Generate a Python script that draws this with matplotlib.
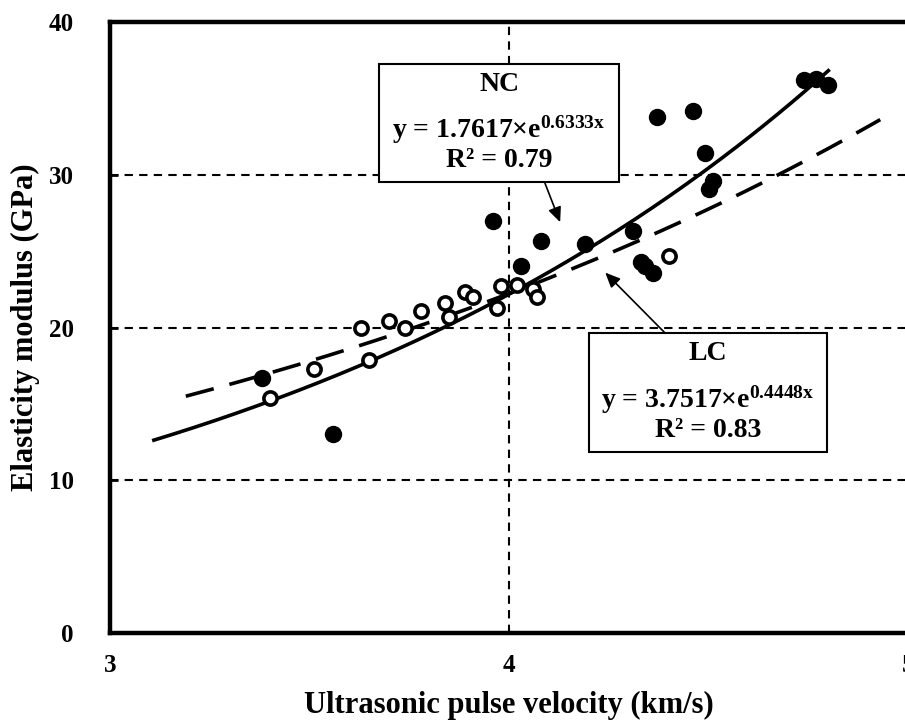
import numpy as np
import matplotlib
matplotlib.use("Agg")
import matplotlib.pyplot as plt
from matplotlib.patches import Rectangle

plt.rcParams["font.family"] = ["Liberation Serif", "DejaVu Serif"]
plt.rcParams["font.weight"] = "bold"
plt.rcParams["mathtext.fontset"] = "custom"
plt.rcParams["mathtext.rm"] = "Liberation Serif:bold"
plt.rcParams["mathtext.it"] = "Liberation Serif:bold"
plt.rcParams["mathtext.bf"] = "Liberation Serif:bold"
plt.rcParams["mathtext.default"] = "rm"

# ---- data ------------------------------------------------------------------
# NC: normal concrete (filled markers)
vel_nc = [3.38, 3.56, 3.96, 4.03, 4.08, 4.19, 4.31, 4.33, 4.34, 4.36,
          4.37, 4.46, 4.49, 4.50, 4.51, 4.74, 4.77, 4.80]
mod_nc = [16.7, 13.0, 27.0, 24.0, 25.7, 25.5, 26.3, 24.3, 24.0, 23.6,
          33.8, 34.2, 31.4, 29.1, 29.6, 36.2, 36.3, 35.9]

# LC: lightweight concrete (open markers)
vel_lc = [3.40, 3.51, 3.63, 3.65, 3.70, 3.74, 3.78, 3.84, 3.85, 3.89,
          3.91, 3.98, 3.97, 4.02, 4.06, 4.07, 4.40]
mod_lc = [15.4, 17.3, 20.0, 17.9, 20.4, 20.0, 21.1, 21.6, 20.7, 22.3,
          22.0, 22.7, 21.3, 22.8, 22.5, 22.0, 24.7]

# exponential trendlines y = a * exp(b x)
nc_a, nc_b, nc_r2 = 1.7617, 0.6333, 0.79
lc_a, lc_b, lc_r2 = 3.7517, 0.4448, 0.83
nc_range = (3.11, 4.80)
lc_range = (3.19, 4.93)

x_ticks = [3, 4, 5]
y_ticks = [0, 10, 20, 30, 40]

# ---- figure ----------------------------------------------------------------
fig = plt.figure(figsize=(9.05, 7.22), dpi=100)
ax = fig.add_axes([0.1215, 0.1233, 0.882, 0.846])

ax.set_xlim(3, 5)
ax.set_ylim(0, 40)

# dashed grid at x=4 and y=10,20,30
for yv in y_ticks[1:-1]:
    ax.axhline(yv, color="black", lw=1.5, dashes=(4, 3), zorder=1)
ax.axvline(4, color="black", lw=1.5, dashes=(4, 3), zorder=1)

xs = np.linspace(*nc_range, 200)
ax.plot(xs, nc_a * np.exp(nc_b * xs), color="black", lw=2.6, zorder=2)
xs = np.linspace(*lc_range, 200)
ax.plot(xs, lc_a * np.exp(lc_b * xs), color="black", lw=2.6, zorder=2,
        dashes=(8, 4.5))

ax.plot(vel_lc, mod_lc, "o", ms=9.5, mfc="white", mec="black", mew=2.6,
        zorder=3, clip_on=False)
ax.plot(vel_nc, mod_nc, "o", ms=11.5, mfc="black", mec="black", mew=1,
        zorder=4, clip_on=False)

for s in ["left", "bottom", "top"]:
    ax.spines[s].set_linewidth(3.2)
ax.spines["right"].set_visible(False)

ax.set_xticks(x_ticks)
ax.set_yticks(y_ticks)
ax.tick_params(axis="x", length=0, pad=15, labelsize=18)
ax.tick_params(axis="y", direction="in", length=6, width=2, pad=26,
               labelsize=18)

ax.set_xlabel("Ultrasonic pulse velocity (km/s)", fontsize=22,
              fontweight="bold", labelpad=10)
ax.set_ylabel("Elasticity modulus (GPa)", fontsize=22, fontweight="bold",
              labelpad=6)


def _label_box(x0, x1, y0, y1, title, a, b, r2):
    ax.add_patch(Rectangle((x0, y0), x1 - x0, y1 - y0, facecolor="white",
                           edgecolor="black", lw=1.5, zorder=5))
    cx = (x0 + x1) / 2
    h = y1 - y0
    ax.text(cx, y1 - 0.17 * h, title, ha="center", va="center",
            fontsize=20, zorder=6)
    ax.text(cx, y1 - 0.56 * h, "y = %.4f\u00d7e$^{%.4fx}$" % (a, b),
            ha="center", va="center", fontsize=20, zorder=6)
    ax.text(cx, y1 - 0.82 * h, "R\u00b2 = %.2f" % r2, ha="center",
            va="center", fontsize=20, zorder=6)


_label_box(3.674, 4.276, 29.55, 37.25, "NC", nc_a, nc_b, nc_r2)
_label_box(4.200, 4.797, 11.85, 19.64, "LC", lc_a, lc_b, lc_r2)

arrow_style = dict(arrowstyle="-|>,head_length=0.9,head_width=0.4",
                   color="black", lw=1.2, shrinkA=0, shrinkB=0)
ax.annotate("", xy=(4.128, 26.9), xytext=(4.090, 29.45),
            arrowprops=arrow_style, zorder=6)
ax.annotate("", xy=(4.241, 23.6), xytext=(4.391, 19.64),
            arrowprops=arrow_style, zorder=6)

fig.savefig("out.png", dpi=100)
